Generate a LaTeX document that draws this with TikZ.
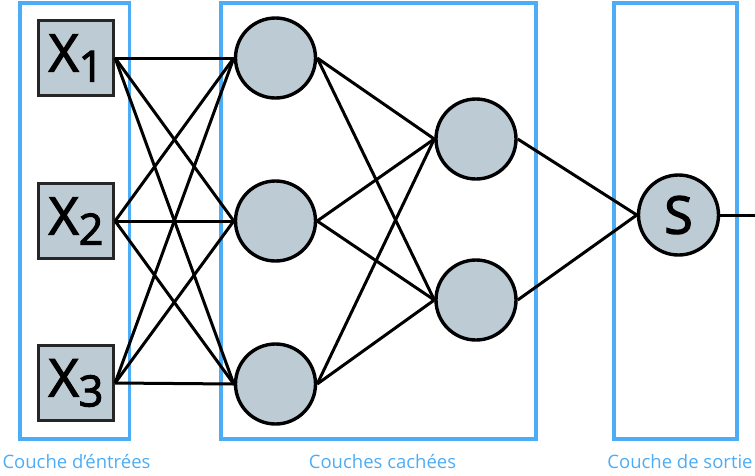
\documentclass[tikz,border=0pt]{standalone}
\usepackage{fontspec}
\setmainfont{Open Sans}
\newcommand{\biglab}{\fontsize{52}{52}\selectfont\addfontfeatures{FakeBold=2.5}}
\newcommand{\subfnt}{\fontsize{43}{43}\selectfont\addfontfeatures{FakeBold=2.5}}
\begin{document}
\begin{tikzpicture}[x=1pt,y=-1pt,
  layerbox/.style={draw=laybl,line width=3.2pt},
  inbox/.style={draw=black!85,fill=nodefill,line width=3.2pt,minimum size=75pt,inner sep=0pt,font=\biglab},
  neuron/.style={circle,draw=black,fill=nodefill,line width=3.4pt,minimum size=80pt,inner sep=0pt},
  link/.style={line width=3pt},
  laylabel/.style={text=laybl,font=\fontsize{18.5}{18.5}\selectfont,anchor=base}]
\definecolor{laybl}{RGB}{77,172,246}
\definecolor{nodefill}{RGB}{188,203,212}
\useasboundingbox (0,0) rectangle (755,475);
% layer boxes
\draw[layerbox] (20,3) rectangle (129.5,439);
\draw[layerbox] (221,3) rectangle (536,439);
\draw[layerbox] (614,3) rectangle (737,439);
% input nodes
\node[inbox] (x1) at (76,58) {X\raisebox{-10pt}{\subfnt 1}};
\node[inbox] (x2) at (76,221) {X\raisebox{-10pt}{\subfnt 2}};
\node[inbox] (x3) at (76,383) {X\raisebox{-10pt}{\subfnt 3}};
% hidden layer 1
\node[neuron] (h1) at (275.5,58) {};
\node[neuron] (h2) at (275.5,221) {};
\node[neuron] (h3) at (275.5,384) {};
% hidden layer 2
\node[neuron] (g1) at (476,139) {};
\node[neuron] (g2) at (476,300) {};
% output
\node[neuron,font=\biglab] (s) at (678.5,215) {S};
\coordinate (out) at (755,215);
% connections
\foreach \a in {x1,x2,x3}{
  \foreach \b in {h1,h2,h3}{
    \draw[link] (\a.east) -- (\b.west);
  }
}
\foreach \a in {h1,h2,h3}{
  \foreach \b in {g1,g2}{
    \draw[link] (\a.east) -- (\b.west);
  }
}
\draw[link] (g1.east) -- (s.west);
\draw[link] (g2.east) -- (s.west);
\draw[link] (s.east) -- (out);
% labels
\node[laylabel] (l1) at (76.5,468) {Couche d’éntrées};
\node[laylabel] (l2) at (382.5,468) {Couches cachées};
\node[laylabel] (l3) at (680,468) {Couche de sortie};
\end{tikzpicture}
\end{document}
